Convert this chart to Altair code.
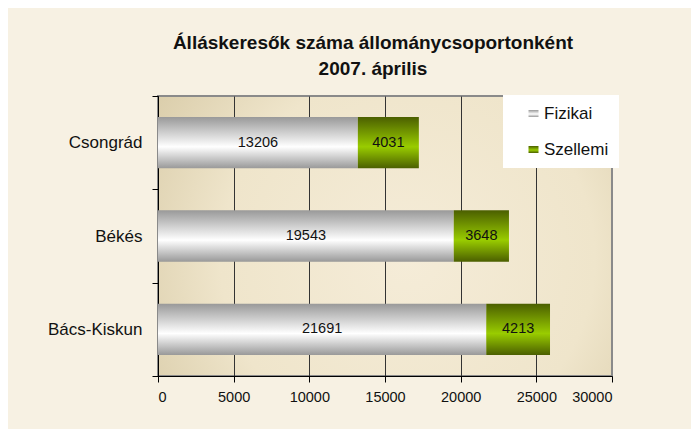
import altair as alt
import pandas as pd

regions = ["Csongrád", "Békés", "Bács-Kiskun"]
fizikai = [13206, 19543, 21691]
szellemi = [4031, 3648, 4213]
series = ["Fizikai", "Szellemi"]
x_ticks = [0, 5000, 10000, 15000, 20000, 25000, 30000]

rows = []
for r, f, s in zip(regions, fizikai, szellemi):
    rows.append(dict(region=r, series="Fizikai", value=f, start=0, end=f))
    rows.append(dict(region=r, series="Szellemi", value=s, start=f, end=f + s))
df = pd.DataFrame(rows)
df["mid"] = (df["start"] + df["end"]) / 2

gray_grad = ("{gradient: 'linear', x1: 0, y1: 0, x2: 0, y2: 1, stops: ["
             "{offset: 0, color: '#999999'}, {offset: 0.58, color: '#ffffff'}, "
             "{offset: 1, color: '#999999'}]}")
green_grad = ("{gradient: 'linear', x1: 0, y1: 0, x2: 0, y2: 1, stops: ["
              "{offset: 0, color: '#4b5f00'}, {offset: 0.58, color: '#99cc00'}, "
              "{offset: 1, color: '#4b5f00'}]}")
bg_grad = ("{gradient: 'radial', x1: 0.55, y1: 0.55, r1: 0, x2: 0.55, y2: 0.55, r2: 0.75, stops: ["
           "{offset: 0, color: '#f5ecd8'}, {offset: 0.55, color: '#efe5cb'}, "
           "{offset: 1, color: '#d3c59f'}]}")

FONT = "Liberation Sans"

y_enc = alt.Y(
    "region:N", sort=regions, title=None,
    scale=alt.Scale(paddingInner=0, paddingOuter=0),
    axis=alt.Axis(tickBand="extent", labelFontSize=17, labelPadding=10, tickSize=6,
                  tickColor="black", domainColor="black", labelColor="#111",
                  labelFont=FONT, grid=False),
)

x_axis = alt.Axis(
    values=x_ticks, grid=True,
    gridColor={"condition": {"test": "datum.value >= 30000", "value": "#8a8a8a"}, "value": "#333333"},
    tickSize=6, tickColor="black", domainColor="black", labelFontSize=14.5,
    labelPadding=8, labelColor="#111", labelFont=FONT, format="d",
)

bars = alt.Chart(df).mark_bar(height=alt.RelativeBandSize(band=0.55)).encode(
    x=alt.X("start:Q", title=None, scale=alt.Scale(domain=[0, 30000], nice=False), axis=x_axis),
    x2="end:Q",
    y=y_enc,
    color=alt.Color(
        "series:N", title=None,
        scale=alt.Scale(domain=series, range=[{"expr": gray_grad}, {"expr": green_grad}]),
        legend=alt.Legend(
            orient="none", legendX=345, legendY=-1, fillColor="white",
            padding=10, rowPadding=18, symbolType="M-1,-0.7H1V0.7H-1Z", symbolSize=100,
            symbolStrokeWidth=0, symbolOffset=12, labelOffset=2,
            labelFontSize=17, labelFont=FONT, labelColor="#111",
        ),
    ),
)

labels = alt.Chart(df).mark_text(fontSize=14.5, color="#111", font=FONT).encode(
    x=alt.X("mid:Q", title=None),
    y=alt.Y("region:N", sort=regions),
    text=alt.Text("value:Q", format="d"),
)

chart = alt.layer(bars, labels).properties(
    width=454, height=280,
    autosize=alt.AutoSizeParams(type="none"),
    padding={"left": 150, "top": 88, "right": 79, "bottom": 53},
    background="#f7f1e3",
    title=alt.TitleParams(
        ["Álláskeresők száma állománycsoportonként", "2007. április"],
        fontSize=19, font=FONT, fontWeight="bold", anchor="middle", dx=-12,
        offset=8, lineHeight=26, color="#111",
    ),
).configure_view(
    fill={"expr": bg_grad},
    stroke="#8a8a8a", strokeWidth=2,
)

chart.save("out.html", embed_options={"renderer": "svg", "actions": False})
